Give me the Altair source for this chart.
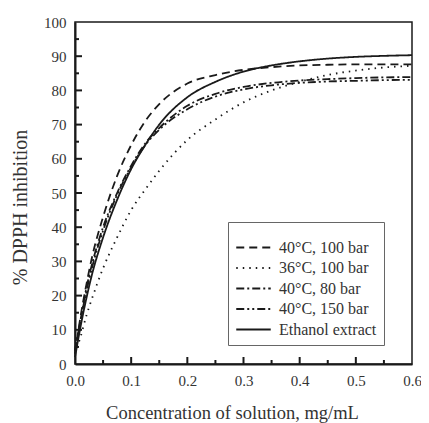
import altair as alt
import pandas as pd

conc = [0.0, 0.01, 0.02, 0.03, 0.05, 0.075, 0.1, 0.125, 0.15, 0.2, 0.25, 0.3, 0.35, 0.4, 0.45, 0.5, 0.55, 0.6]
s_40_100 = [3, 14, 23, 31, 43, 55, 64, 71, 76, 82, 84.5, 86, 86.8, 87.3, 87.5, 87.6, 87.6, 87.6]
s_36_100 = [3, 8, 14, 19, 28, 37, 45, 51, 56.5, 65.5, 71.5, 76.5, 80, 82.5, 84.5, 85.8, 86.7, 87.2]
s_40_80 = [4, 13, 22, 29, 40, 50, 58, 64.5, 69, 75.5, 79, 81, 82.2, 82.9, 83.3, 83.6, 83.8, 83.9]
s_40_150 = [4, 13, 21, 28, 39, 49.5, 57.5, 64, 68.5, 74.5, 78.2, 80.3, 81.5, 82.2, 82.6, 82.8, 83.0, 83.1]
s_eth = [2, 11, 19, 26, 37, 48, 57, 64, 70, 78, 82.5, 85.5, 87.3, 88.5, 89.3, 89.8, 90.1, 90.3]

series_names = ["40°C, 100 bar", "36°C, 100 bar", "40°C, 80 bar", "40°C, 150 bar", "Ethanol extract"]
series_vals = [s_40_100, s_36_100, s_40_80, s_40_150, s_eth]
dashes = [[8, 5], [1.5, 5], [8, 3, 2, 3], [8, 3, 2, 3, 2, 3], [1, 0]]

x_labels = [0.0, 0.1, 0.2, 0.3, 0.4, 0.5, 0.6]
y_labels = [0, 10, 20, 30, 40, 50, 60, 70, 80, 90, 100]
x_major = [0.1, 0.2, 0.3, 0.4, 0.5]
x_minor = [0.05, 0.15, 0.25, 0.35, 0.45, 0.55]
y_major = [10, 20, 30, 40, 50, 60, 70, 80, 90]
y_minor = [5, 15, 25, 35, 45, 55, 65, 75, 85, 95]

rows = []
for name, vals in zip(series_names, series_vals):
    for c, v in zip(conc, vals):
        rows.append({"conc": c, "inh": v, "series": name})
df = pd.DataFrame(rows)

FONT = "Liberation Serif, Times New Roman, serif"
W, H = 337, 342

xscale = alt.Scale(domain=[0, 0.6], nice=False, zero=False)
yscale = alt.Scale(domain=[0, 100], nice=False)

xaxis = alt.Axis(title="Concentration of solution, mg/mL", values=x_labels, titleFontSize=18.5,
                 format=".1f", titleX=157, titleY=48, titleBaseline="middle", titleAlign="center")
yaxis = alt.Axis(title="% DPPH inhibition", values=y_labels, titleFontSize=20,
                 titleX=-55, titleY=185, titleAngle=-90, titleBaseline="middle", titleAlign="center")

lines = alt.Chart(df).mark_line(color="#1a1a1a", strokeWidth=1.8, interpolate="monotone").encode(
    x=alt.X("conc:Q", scale=xscale, axis=xaxis),
    y=alt.Y("inh:Q", scale=yscale, axis=yaxis),
    strokeDash=alt.StrokeDash("series:N", scale=alt.Scale(domain=series_names, range=dashes),
                              legend=alt.Legend(title=" ", titleFontSize=10, titlePadding=0,
                                                orient="none", legendX=153, legendY=200,
                                                symbolType="stroke", symbolSize=1190, symbolStrokeWidth=1.8,
                                                symbolStrokeColor="#1a1a1a",
                                                labelFont=FONT, labelFontSize=16, labelColor="#333",
                                                labelOffset=7, padding=7, rowPadding=3.5, clipHeight=17,
                                                strokeColor="#666", fillColor="white")),
    detail="series:N",
)

xmaj = alt.Chart(pd.DataFrame({"conc": x_major})).mark_rule(color="#1a1a1a", strokeWidth=2).encode(
    x=alt.X("conc:Q", scale=xscale, axis=xaxis), y=alt.value(H), y2=alt.value(H - 7))
xmin = alt.Chart(pd.DataFrame({"conc": x_minor})).mark_rule(color="#1a1a1a", strokeWidth=2).encode(
    x=alt.X("conc:Q", scale=xscale, axis=xaxis), y=alt.value(H), y2=alt.value(H - 4))
ymaj = alt.Chart(pd.DataFrame({"inh": y_major})).mark_rule(color="#1a1a1a", strokeWidth=2).encode(
    y=alt.Y("inh:Q", scale=yscale, axis=yaxis), x=alt.value(0), x2=alt.value(7))
ymin = alt.Chart(pd.DataFrame({"inh": y_minor})).mark_rule(color="#1a1a1a", strokeWidth=2).encode(
    y=alt.Y("inh:Q", scale=yscale, axis=yaxis), x=alt.value(0), x2=alt.value(4))

chart = alt.layer(lines, xmaj, xmin, ymaj, ymin).properties(
    width=W, height=H,
    background="white",
    autosize=alt.AutoSizeParams(type="none"),
    padding={"left": 67, "top": 14, "right": 9, "bottom": 59},
).configure_view(
    stroke="#1a1a1a", strokeWidth=1.5
).configure_axis(
    grid=False, ticks=False, domainColor="#1a1a1a", domainWidth=2, labelFlush=False,
    labelFont=FONT, labelFontSize=15, labelColor="#333", labelPadding=9,
    titleFont=FONT, titleColor="#333", titleFontWeight="normal",
)

chart.save("out.html", embed_options={"renderer": "svg", "actions": False})
